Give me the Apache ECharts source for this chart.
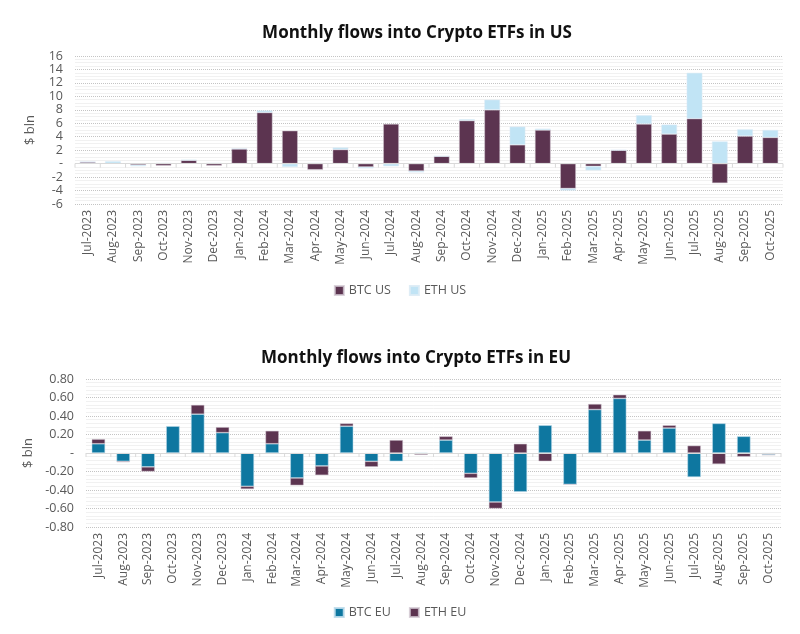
<!DOCTYPE html>
<html>
<head>
<meta charset="utf-8">
<script src="https://cdn.jsdelivr.net/npm/echarts@6/dist/echarts.min.js"></script>
<style>html,body{margin:0;padding:0;background:#fff}#c{width:800px;height:634px}</style>
</head>
<body>
<div id="c"></div>
<script>
var months = ['Jul-2023','Aug-2023','Sep-2023','Oct-2023','Nov-2023','Dec-2023','Jan-2024','Feb-2024','Mar-2024','Apr-2024','May-2024','Jun-2024','Jul-2024','Aug-2024','Sep-2024','Oct-2024','Nov-2024','Dec-2024','Jan-2025','Feb-2025','Mar-2025','Apr-2025','May-2025','Jun-2025','Jul-2025','Aug-2025','Sep-2025','Oct-2025'];
var btcUS = [0.25,0.05,-0.2,-0.3,0.5,-0.3,2.2,7.6,4.9,-0.9,2.1,-0.5,5.9,-1.1,1.1,6.4,8.0,2.8,5.0,-3.7,-0.4,2.0,5.9,4.4,6.7,-2.9,4.1,3.9];
var ethUS = [0.0,0.3,-0.2,0.1,0.05,0.1,0.0,0.3,-0.5,0.1,0.3,-0.2,-0.4,-0.2,0.0,0.2,1.5,2.7,0.2,-0.3,-0.6,0.0,1.3,1.4,6.8,3.3,1.0,1.1];
var btcEU = [0.10,-0.09,-0.15,0.29,0.42,0.22,-0.36,0.10,-0.27,-0.14,0.29,-0.09,-0.09,-0.005,0.14,-0.22,-0.53,-0.42,0.30,-0.34,0.47,0.59,0.14,0.27,-0.26,0.32,0.18,-0.02];
var ethEU = [0.05,-0.01,-0.05,-0.01,0.10,0.06,-0.03,0.14,-0.08,-0.10,0.03,-0.06,0.14,-0.015,0.04,-0.05,-0.07,0.10,-0.09,0.0,0.06,0.04,0.10,0.03,0.08,-0.12,-0.04,0.0];
var usTicks = {min:-6, max:16, interval:2};
var euTicks = {min:-0.8, max:0.8, interval:0.2};

var FONT = 'Open Sans';
var labelColor = '#595959';
var axisGrey = '#D9D9D9';
function xLabelAxis(gi){
  return {type:'category', gridIndex:gi, data:months, position:'bottom', boundaryGap:true,
    axisLine:{show:false}, axisTick:{show:false},
    splitLine:{show:false}, splitArea:{show:false},
    axisLabel:{rotate:90, fontSize:12, color:labelColor, fontFamily:FONT, margin:6, interval:0}};
}
function yAxis(gi, t, fmt, gap, minorN){
  return {type:'value', gridIndex:gi, min:t.min, max:t.max, interval:t.interval,
    name:'$ bln', nameLocation:'middle', nameRotate:90, nameGap:gap,
    nameTextStyle:{fontSize:13, color:labelColor, fontFamily:FONT},
    axisLine:{show:false}, axisTick:{show:false},
    axisLabel:{formatter:fmt, fontSize:12.5, color:labelColor, fontFamily:FONT, margin:12},
    splitLine:{show:true, lineStyle:{color:'#C4C4C4', type:'dotted', width:1}},
    minorTick:{show:false, splitNumber:minorN},
    minorSplitLine:{show:true, lineStyle:{color:'#F1F1F1', width:1}}};
}
function zeroLine(){
  return {silent:true, symbol:'none', label:{show:false}, animation:false,
    lineStyle:{color:axisGrey, type:'solid', width:1.2}, data:[{yAxis:0}]};
}
function tickSeries(xi, yi){
  return {type:'custom', xAxisIndex:xi, yAxisIndex:yi, silent:true, z:5,
    data: months.map(function(m){return [m, 0];}),
    renderItem:function(params, api){
      var p = api.coord([api.value(0), 0]);
      var bw = api.size([1, 0])[0];
      var kids = [{type:'line', shape:{x1:p[0]-bw/2, y1:p[1], x2:p[0]-bw/2, y2:p[1]+4},
        style:{stroke:axisGrey, lineWidth:1}}];
      if (params.dataIndex === months.length-1) {
        kids.push({type:'line', shape:{x1:p[0]+bw/2, y1:p[1], x2:p[0]+bw/2, y2:p[1]+4},
          style:{stroke:axisGrey, lineWidth:1}});
      }
      return {type:'group', children:kids};
    }};
}
var chart = echarts.init(document.getElementById('c'), null, {renderer:'canvas'});
chart.setOption({
  animation:false,
  backgroundColor:'#fff',
  title:[
    {text:'Monthly flows into Crypto ETFs in US', left:412, top:20, textAlign:'center',
      textStyle:{fontSize:17, fontWeight:'bold', color:'#111', fontFamily:FONT}},
    {text:'Monthly flows into Crypto ETFs in EU', left:411, top:345, textAlign:'center',
      textStyle:{fontSize:17, fontWeight:'bold', color:'#111', fontFamily:FONT}}
  ],
  legend:[
    {data:['BTC US','ETH US'], left:'center', top:279, icon:'rect', itemWidth:9, itemHeight:9, itemGap:18,
      textStyle:{fontSize:12.5, color:labelColor, fontFamily:FONT}},
    {data:['BTC EU','ETH EU'], left:'center', top:601, icon:'rect', itemWidth:9, itemHeight:9, itemGap:18,
      textStyle:{fontSize:12.5, color:labelColor, fontFamily:FONT}}
  ],
  grid:[
    {left:75, right:17, top:56, height:148, show:false},
    {left:86, right:19, top:379, height:148, show:false}
  ],
  xAxis:[xLabelAxis(0), xLabelAxis(1)],
  yAxis:[
    yAxis(0, usTicks, function(v){return v===0?'-':String(v);}, 38, 4),
    yAxis(1, euTicks, function(v){return Math.abs(v)<1e-9?'-':v.toFixed(2);}, 50, 5)
  ],
  series:[
    {name:'BTC US', type:'bar', stack:'us', xAxisIndex:0, yAxisIndex:0, data:btcUS, barCategoryGap:'38%',
      itemStyle:{color:'#5C3450', borderColor:'rgba(210,200,210,0.8)', borderWidth:0.6},
      markLine:zeroLine()},
    {name:'ETH US', type:'bar', stack:'us', xAxisIndex:0, yAxisIndex:0, data:ethUS, barCategoryGap:'38%',
      itemStyle:{color:'#C1E4F5', borderColor:'rgba(220,235,245,0.9)', borderWidth:0.6}},
    {name:'BTC EU', type:'bar', stack:'eu', xAxisIndex:1, yAxisIndex:1, data:btcEU, barCategoryGap:'46%',
      itemStyle:{color:'#0E77A0', borderColor:'rgba(190,220,235,0.9)', borderWidth:0.6},
      markLine:zeroLine()},
    {name:'ETH EU', type:'bar', stack:'eu', xAxisIndex:1, yAxisIndex:1, data:ethEU, barCategoryGap:'46%',
      itemStyle:{color:'#5C3450', borderColor:'rgba(210,200,210,0.8)', borderWidth:0.6}},
    tickSeries(0, 0),
    tickSeries(1, 1)
  ]
});
</script>
</body>
</html>
